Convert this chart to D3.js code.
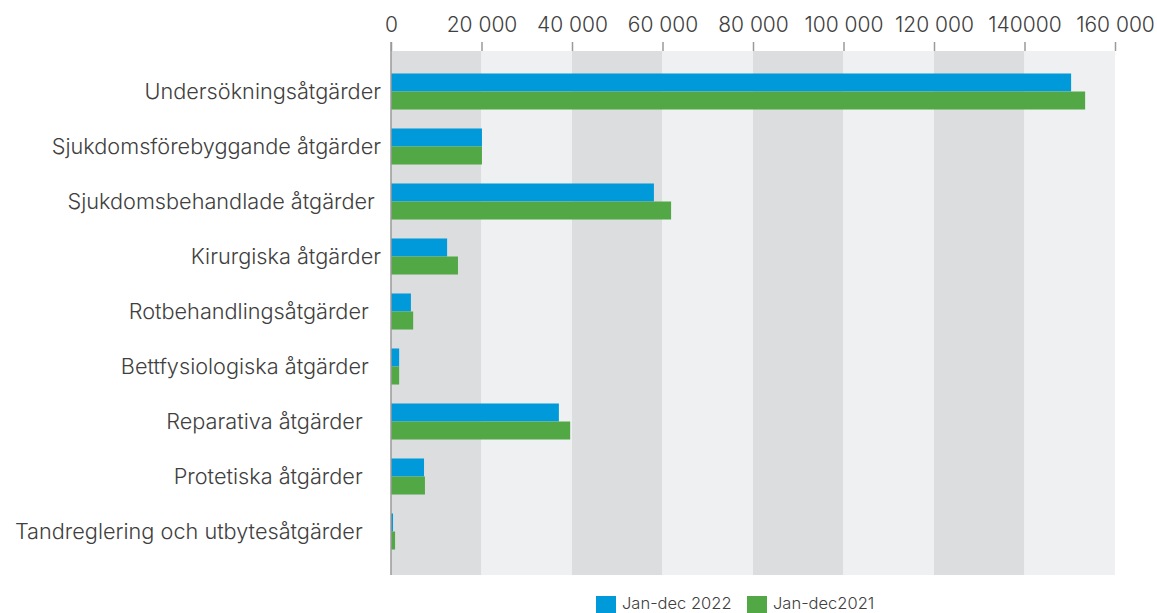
<!DOCTYPE html>
<html>
<head>
<meta charset="utf-8">
<style>
body { margin: 0; background: #fff; }
text { font-family: "Inter", "Noto Sans", sans-serif; fill: #404040; font-weight: 300; }
.cat-label { white-space: pre; }
</style>
</head>
<body>
<svg id="chart" width="1157" height="613"></svg>
<script src="https://d3js.org/d3.v7.min.js"></script>
<script>
    // categories (trailing spaces kept as in the original labels)
    const categories = [
        "Undersökningsåtgärder",
        "Sjukdomsförebyggande åtgärder",
        "Sjukdomsbehandlade åtgärder ",
        "Kirurgiska åtgärder",
        "Rotbehandlingsåtgärder  ",
        "Bettfysiologiska åtgärder  ",
        "Reparativa åtgärder   ",
        "Protetiska åtgärder   ",
        "Tandreglering och utbytesåtgärder   "
    ];
    const series_names = ["Jan-dec 2022", "Jan-dec2021"];
    const values_2022 = [150300, 20100, 58100, 12400, 4400, 1800, 37100, 7300, 450];
    const values_2021 = [153400, 20100, 61900, 14800, 4900, 1800, 39600, 7500, 900];
    const tick_values = [0, 20000, 40000, 60000, 80000, 100000, 120000, 140000, 160000];
    const tick_labels = ["0", "20 000", "40 000", "60 000", "80 000", "100 000", "120 000", "140000", "160 000"];
    const colors = ["#009ada", "#53a846"];

    const svg = d3.select("#chart");
    const plot_top = 51, plot_bottom = 575;

    const x = d3.scaleLinear().domain([0, 160000]).range([391, 1115]);
    const y = d3.scaleBand().domain(categories).range([64, 559])
        .paddingInner(0.345).paddingOuter(0.1725);
    const y_inner = d3.scaleBand().domain([0, 1]).range([0, y.bandwidth()]);

    // alternating background bands
    const bands = d3.pairs(tick_values);
    svg.selectAll("rect.band")
        .data(bands)
        .enter()
        .append("rect")
        .attr("x", d => x(d[0]))
        .attr("width", d => x(d[1]) - x(d[0]))
        .attr("y", plot_top)
        .attr("height", plot_bottom - plot_top)
        .style("fill", (d, i) => i % 2 == 0 ? "#dcdddf" : "#eff0f2");

    // top axis
    const axis = svg.append("g")
        .attr("transform", "translate(0," + plot_top + ")")
        .call(d3.axisTop(x).tickValues(tick_values)
            .tickFormat((d, i) => tick_labels[i])
            .tickSize(9).tickPadding(10));
    axis.select(".domain").remove();
    axis.selectAll("line").style("stroke", "#9a9a9a").style("stroke-width", 1.5);
    axis.selectAll("text")
        .style("font-size", "21px")
        .style("font-family", "Inter, sans-serif")
        .style("font-weight", 300)
        .style("fill", "#404040");

    // bars
    const all_series = [values_2022, values_2021];
    all_series.forEach((vals, s) => {
        svg.selectAll("rect.bar-" + s)
            .data(vals)
            .enter()
            .append("rect")
            .attr("x", x(0))
            .attr("y", (d, i) => y(categories[i]) + y_inner(s))
            .attr("width", d => x(d) - x(0))
            .attr("height", y_inner.bandwidth())
            .style("fill", colors[s]);
    });

    // vertical axis line
    svg.append("line")
        .attr("x1", x(0)).attr("x2", x(0))
        .attr("y1", plot_top - 9).attr("y2", plot_bottom)
        .style("stroke", "#9a9a9a")
        .style("stroke-width", 1.5);

    // category labels
    svg.selectAll("text.cat-label")
        .data(categories)
        .enter()
        .append("text")
        .attr("class", "cat-label")
        .attr("x", 381)
        .attr("y", d => y(d) + y.bandwidth() / 2)
        .attr("dy", "0.35em")
        .attr("text-anchor", "end")
        .style("font-size", "21.7px")
        .text(d => d);

    // legend
    const legend_x = [596, 747];
    const legend = svg.selectAll("g.legend")
        .data(series_names)
        .enter()
        .append("g")
        .attr("transform", (d, i) => "translate(" + legend_x[i] + ",596)");
    legend.append("rect")
        .attr("width", 20).attr("height", 18)
        .style("fill", (d, i) => colors[i]);
    legend.append("text")
        .attr("x", 26).attr("y", 13)
        .style("font-size", "16.5px")
        .text(d => d);
</script>
</body>
</html>
